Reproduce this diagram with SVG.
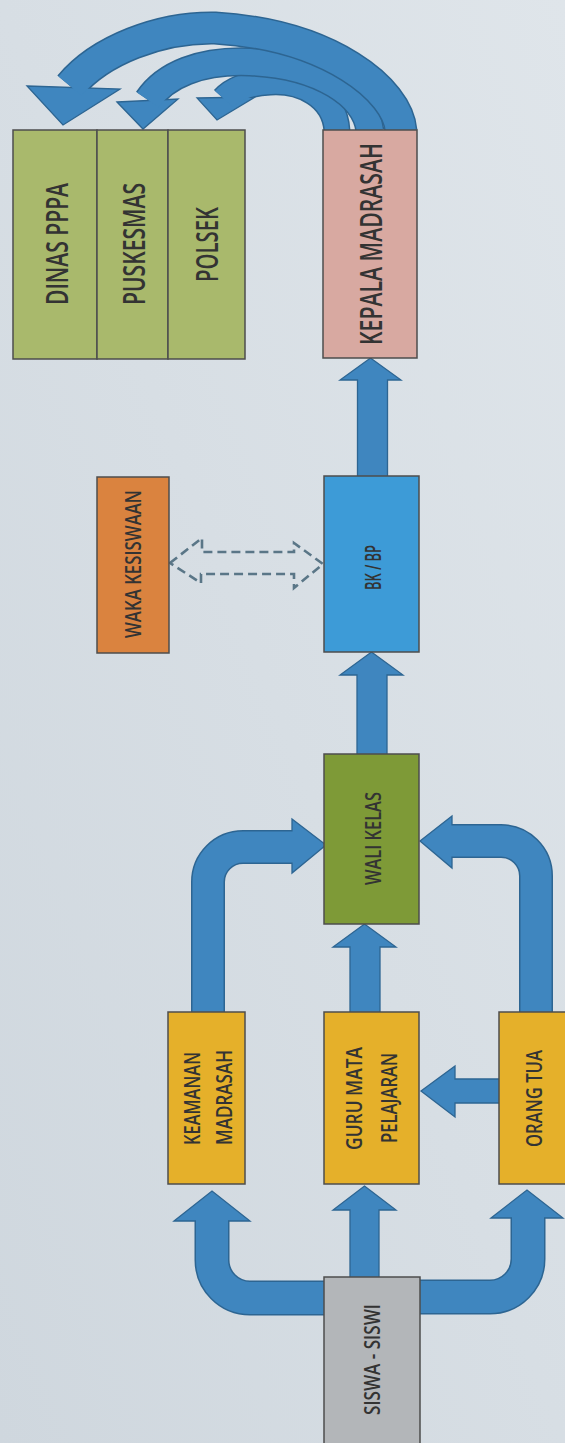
<svg xmlns="http://www.w3.org/2000/svg" width="565" height="1443" viewBox="0 0 565 1443">
<defs>
<linearGradient id="bg" x1="1" y1="0" x2="0" y2="1">
<stop offset="0" stop-color="#dfe5ea"/>
<stop offset="1" stop-color="#cfd7de"/>
</linearGradient>
<style>
.node{stroke:#4d4d4d;stroke-width:1.5}
.t{font-family:"Open Sans","Liberation Sans",sans-serif;fill:#333333;text-anchor:middle;font-size:21px;font-weight:600}
.tl{font-size:30px}
.arr{fill:#3f86bf;stroke:#2d6592;stroke-width:1.3;stroke-linejoin:miter}
.ol{fill:none;stroke:#2d6592}
.sh{fill:none;stroke:#3f86bf}
.hd{fill:#3f86bf;stroke:#2d6592;stroke-width:1.3}
.dash{fill:none;stroke:#5a7687;stroke-width:2.6;stroke-dasharray:9 5;stroke-linejoin:miter}
</style>
</defs>
<rect x="0" y="0" width="565" height="1443" fill="url(#bg)"/>

<g id="connectors">
<!-- top curved arrows from Kepala Madrasah -->
<path class="ol" stroke-width="27" d="M 337 131 C 335 95, 300 80, 270 82 C 248 83, 232 90, 224 99"/>
<polygon class="hd" points="197,98 255,97 217,120"/>
<path class="sh" stroke-width="24" d="M 337 131 C 335 95, 300 80, 270 82 C 248 83, 232 90, 224 99"/>
<path class="ol" stroke-width="29" d="M 370 131 C 366 95, 320 65, 250 62 C 200 60, 165 75, 148 100"/>
<polygon class="hd" points="117,102 178,99 143,129"/>
<path class="sh" stroke-width="26" d="M 370 131 C 366 95, 320 65, 250 62 C 200 60, 165 75, 148 100"/>
<path class="ol" stroke-width="33" d="M 401 131 C 398 90, 330 35, 215 28 C 160 27, 100 50, 70 86"/>
<polygon class="hd" points="27,86 120,89 63,125"/>
<path class="sh" stroke-width="30" d="M 401 131 C 398 90, 330 35, 215 28 C 160 27, 100 50, 70 86"/>

<!-- BK/BP -> Kepala Madrasah -->
<polygon class="arr" points="357.5,477 357.5,380 340,380 370.5,358 401,380 387.5,380 387.5,477"/>
<!-- Wali Kelas -> BK/BP -->
<polygon class="arr" points="357,755 357,675 340,675 371.5,652 403,675 387,675 387,755"/>
<!-- dashed double arrow Waka <-> BK/BP -->
<polygon class="dash" points="170,563 202,538 202,552 294,552 294,543 323,564 294,588 294,574 201,574 201,583"/>

<!-- Keamanan -> Wali Kelas -->
<path class="ol" stroke-width="34" d="M 208 1014 V 882 A 35 35 0 0 1 243 847 H 292"/>
<polygon class="hd" points="292,819 326,845 292,873"/>
<path class="sh" stroke-width="31" d="M 208 1014 V 882 A 35 35 0 0 1 243 847 H 295"/>
<!-- Orang Tua -> Wali Kelas -->
<path class="ol" stroke-width="34" d="M 536 1014 V 876 A 35 35 0 0 0 501 841 H 452"/>
<polygon class="hd" points="452,816 420,841 452,868"/>
<path class="sh" stroke-width="31" d="M 536 1014 V 876 A 35 35 0 0 0 501 841 H 449"/>
<!-- Guru -> Wali Kelas -->
<polygon class="arr" points="350,1014 350,947 333,947 364.5,924 396,947 380,947 380,1014"/>
<!-- Orang Tua -> Guru -->
<polygon class="arr" points="502,1079 455,1079 455,1066 421,1091 455,1117 455,1103 502,1103"/>
<!-- Siswa -> Guru -->
<polygon class="arr" points="350,1279 350,1210 333,1210 364.5,1186 396,1210 379,1210 379,1279"/>
<!-- Siswa -> Keamanan -->
<path class="ol" stroke-width="35" d="M 326 1298 H 250 A 38 38 0 0 1 212 1260 V 1221"/>
<polygon class="hd" points="174,1221 212,1191 250,1221"/>
<path class="sh" stroke-width="32" d="M 326 1298 H 250 A 38 38 0 0 1 212 1260 V 1218"/>
<!-- Siswa -> Orang Tua -->
<path class="ol" stroke-width="35" d="M 418 1297 H 490 A 38 38 0 0 0 528 1259 V 1218"/>
<polygon class="hd" points="491,1218 527,1190 563,1218"/>
<path class="sh" stroke-width="32" d="M 418 1297 H 490 A 38 38 0 0 0 528 1259 V 1215"/>
</g>

<g id="dinas-pppa">
<rect class="node" x="13" y="130" width="84" height="229" fill="#a9b96c"/>
<text class="t tl" transform="translate(57,244) rotate(-90)" y="11" textLength="122" lengthAdjust="spacingAndGlyphs">DINAS PPPA</text>
</g>
<g id="puskesmas">
<rect class="node" x="97" y="130" width="71" height="229" fill="#a9b96c"/>
<text class="t tl" transform="translate(133.5,244) rotate(-90)" y="11" textLength="122" lengthAdjust="spacingAndGlyphs">PUSKESMAS</text>
</g>
<g id="polsek">
<rect class="node" x="168" y="130" width="77" height="229" fill="#a9b96c"/>
<text class="t tl" transform="translate(207,244.5) rotate(-90)" y="11" textLength="75" lengthAdjust="spacingAndGlyphs">POLSEK</text>
</g>
<g id="kepala-madrasah">
<rect class="node" x="323" y="130" width="94" height="228" fill="#d8a9a1"/>
<text class="t tl" transform="translate(371,244) rotate(-90)" y="11" textLength="202" lengthAdjust="spacingAndGlyphs">KEPALA MADRASAH</text>
</g>
<g id="waka-kesiswaan">
<rect class="node" x="97" y="477" width="72" height="176" fill="#da833f"/>
<text class="t" transform="translate(133.5,564) rotate(-90)" y="7.5" textLength="148" lengthAdjust="spacingAndGlyphs">WAKA KESISWAAN</text>
</g>
<g id="bk-bp">
<rect class="node" x="324" y="476" width="95" height="176" fill="#3d9bd7"/>
<text class="t" transform="translate(373,567.5) rotate(-90)" y="7.5" textLength="45" lengthAdjust="spacingAndGlyphs">BK / BP</text>
</g>
<g id="wali-kelas">
<rect class="node" x="324" y="754" width="95" height="170" fill="#7e9a37"/>
<text class="t" transform="translate(373,838.5) rotate(-90)" y="7.5" textLength="93" lengthAdjust="spacingAndGlyphs">WALI KELAS</text>
</g>
<g id="keamanan-madrasah">
<rect class="node" x="168" y="1012" width="77" height="172" fill="#e5b02a"/>
<text class="t" transform="translate(192.5,1098.5) rotate(-90)" y="7.5" textLength="93" lengthAdjust="spacingAndGlyphs">KEAMANAN</text>
<text class="t" transform="translate(224.5,1097.5) rotate(-90)" y="7.5" textLength="95" lengthAdjust="spacingAndGlyphs">MADRASAH</text>
</g>
<g id="guru-mata-pelajaran">
<rect class="node" x="324" y="1012" width="95" height="172" fill="#e5b02a"/>
<text class="t" transform="translate(354.5,1098.5) rotate(-90)" y="7.5" textLength="103" lengthAdjust="spacingAndGlyphs">GURU MATA</text>
<text class="t" transform="translate(389.5,1098) rotate(-90)" y="7.5" textLength="90" lengthAdjust="spacingAndGlyphs">PELAJARAN</text>
</g>
<g id="orang-tua">
<rect class="node" x="499" y="1012" width="80" height="172" fill="#e5b02a"/>
<text class="t" transform="translate(534,1098.5) rotate(-90)" y="7.5" textLength="97" lengthAdjust="spacingAndGlyphs">ORANG TUA</text>
</g>
<g id="siswa-siswi">
<rect class="node" x="324" y="1277" width="96" height="180" fill="#b3b6b9"/>
<text class="t" transform="translate(372,1359.5) rotate(-90)" y="7.5" textLength="111" lengthAdjust="spacingAndGlyphs">SISWA - SISWI</text>
</g>
</svg>
